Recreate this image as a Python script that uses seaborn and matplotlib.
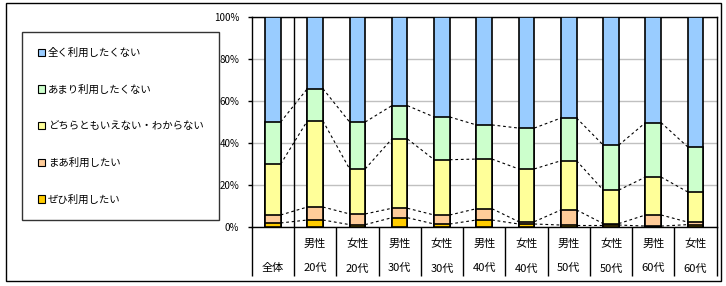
import matplotlib
matplotlib.use("Agg")
import matplotlib.pyplot as plt
import seaborn as sns
import numpy as np
from matplotlib.patches import Patch, Rectangle
from matplotlib.ticker import PercentFormatter

plt.rcParams['font.family'] = ['Noto Sans CJK JP', 'DejaVu Sans']

# categories (bottom row label, top row label)
groups = ["全体", "20代", "20代", "30代", "30代", "40代", "40代", "50代", "50代", "60代", "60代"]
sexes = ["", "男性", "女性", "男性", "女性", "男性", "女性", "男性", "女性", "男性", "女性"]

series_names = ["全く利用したくない", "あまり利用したくない", "どちらともいえない・わからない",
                "まあ利用したい", "ぜひ利用したい"]
series_colors = ["#99CCFF", "#CCFFCC", "#FFFF99", "#FFCC99", "#FFCC00"]

# percentages, bottom segment first
zehi = [1.8, 3.2, 1.0, 4.3, 1.3, 3.2, 1.3, 0.8, 0.8, 0.3, 1.0]
maa = [3.8, 6.2, 5.1, 4.5, 4.3, 5.4, 1.1, 7.2, 0.7, 5.3, 1.2]
dochira = [24.3, 41.1, 21.5, 33.1, 26.4, 23.7, 25.2, 23.5, 16.0, 18.1, 14.4]
amari = [20.1, 15.4, 22.4, 15.9, 20.4, 16.3, 19.5, 20.4, 21.5, 26.0, 21.5]
mattaku = [50.0, 34.1, 50.0, 42.2, 47.6, 51.4, 52.9, 48.1, 61.0, 50.3, 61.9]

layers = [zehi, maa, dochira, amari, mattaku]
layer_colors = series_colors[::-1]
cums = np.cumsum(np.array(layers), axis=0) / 100.0

keys = [f"{s}{g}" for s, g in zip(sexes, groups)]
bar_w = 0.37

fig = plt.figure(figsize=(7.26, 2.86), dpi=100)
ax = fig.add_axes([0.3467, 0.2073, 0.6405, 0.7322])

# draw from top cumulative to bottom so each layer overlays the previous
for i in range(len(layers) - 1, -1, -1):
    sns.barplot(x=keys, y=cums[i], color=layer_colors[i], saturation=1,
                width=bar_w, edgecolor="black", linewidth=1.2, ax=ax, zorder=3)

# series lines between neighbouring bars
xs = np.arange(len(keys))
for i in range(len(layers) - 1):
    for j in range(len(keys) - 1):
        ax.plot([xs[j] + bar_w / 2, xs[j + 1] - bar_w / 2], [cums[i][j], cums[i][j + 1]],
                color="black", lw=0.8, linestyle=(0, (2.5, 2.5)), zorder=2)

ax.axvline(0.5, color="black", lw=1, zorder=2)

ax.set_xlim(-0.5, len(keys) - 0.5)
ax.set_ylim(0, 1)
ax.set_yticks(np.arange(0, 1.01, 0.2))
ax.yaxis.set_major_formatter(PercentFormatter(1.0, decimals=0))
ax.grid(axis="y", color="#C0C0C0", lw=1)
ax.set_axisbelow(True)
ax.set_xlabel("")
ax.set_ylabel("")

ax.set_xticks(xs)
ax.set_xticklabels([f"{s}\n{g}" for s, g in zip(sexes, groups)], fontsize=8, linespacing=2.8)
ax.set_xticks(np.arange(-0.5, len(keys), 1), minor=True)
ax.tick_params(axis="x", which="major", length=0, pad=8.5)
ax.tick_params(axis="x", which="minor", length=35, width=1, color="black")
ax.tick_params(axis="y", length=3, width=1, labelsize=7, pad=6)
for sp in ax.spines.values():
    sp.set_color("black")
    sp.set_linewidth(1)

handles = [Patch(facecolor=c, edgecolor="black", linewidth=0.8) for c in series_colors]
leg = fig.legend(handles, series_names, loc="upper left", bbox_to_anchor=(0.0303, 0.888),
                 fontsize=7.5, frameon=True, fancybox=False, edgecolor="black",
                 borderaxespad=0, borderpad=1.5, handlelength=0.7, handleheight=0.7,
                 handletextpad=0.3, labelspacing=2.55)
leg.get_frame().set_linewidth(1)

fig.patches.append(Rectangle((5.5 / 726, 1 - 281 / 286), 715 / 726, 278 / 286,
                             transform=fig.transFigure, fill=False, ec="black", lw=1))

fig.savefig("out.png", dpi=100)
